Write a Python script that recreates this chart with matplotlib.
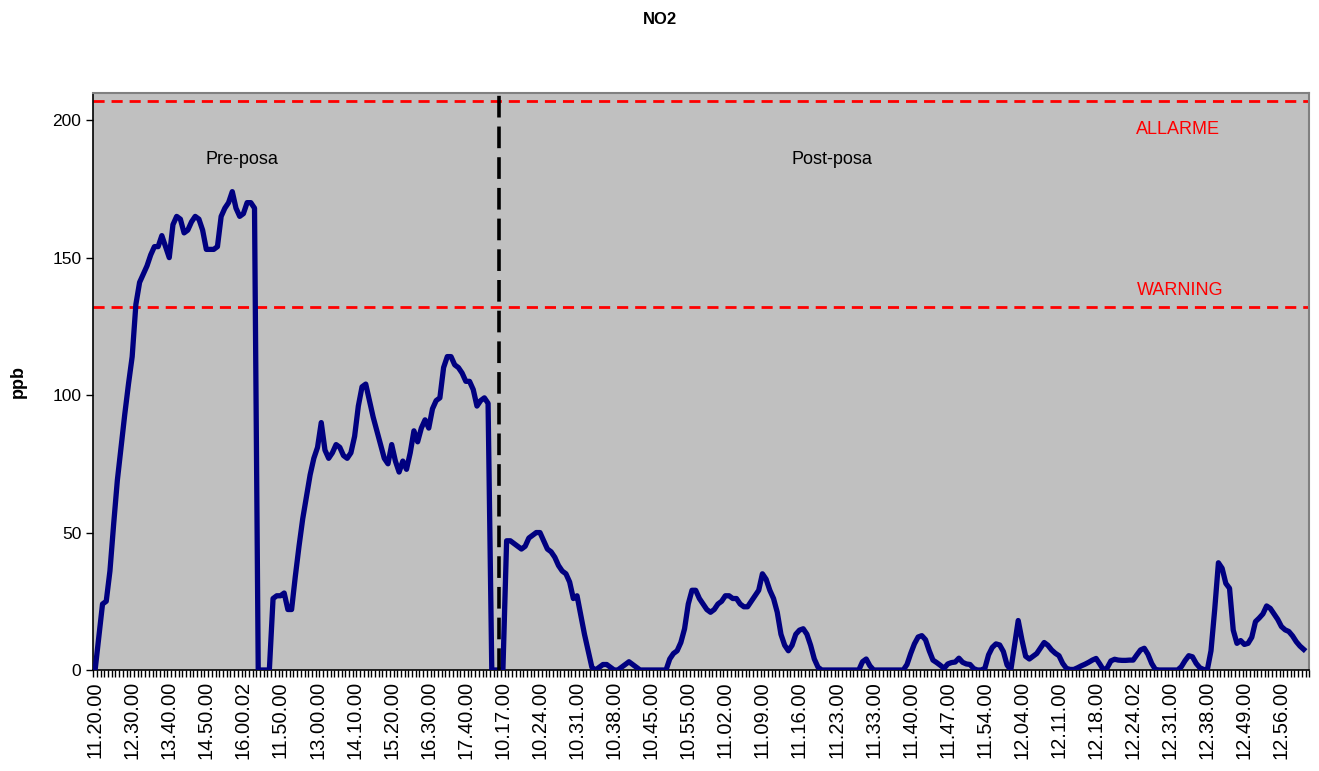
import matplotlib.pyplot as plt

# NO2 readings (ppb), one value per sample
no2_pre = [
    0, 12, 24, 25, 36, 53, 69, 81, 93, 104,
    114, 133, 141, 144, 147, 151, 154, 154, 158, 154,
    150, 162, 165, 164, 159, 160, 163, 165, 164, 160,
    153, 153, 153, 154, 165, 168, 170, 174, 168, 165,
    166, 170, 170, 168, 0, 0, 0, 0, 26, 27,
    27, 28, 22, 22, 34, 45, 55, 63, 71, 77,
    81, 90, 80, 77, 79, 82, 81, 78, 77, 79,
    85, 96, 103, 104, 98, 92, 87, 82, 77, 75,
    82, 76, 72, 76, 73, 79, 87, 83, 88, 91,
    88, 95, 98, 99, 110, 114, 114, 111, 110, 108,
    105, 105, 102, 96, 98, 99, 97, 0, 0, 0,
]
no2_post = [
    0, 47, 47, 46, 45, 44, 45, 48, 49, 50,
    50, 47, 44, 43, 41, 38, 36, 35, 32, 26,
    27, 20, 13, 7, 1, 0, 1, 2, 2, 1,
    0, 0, 1, 2, 3, 2, 1, 0, 0, 0,
    0, 0, 0, 0, 0, 4, 6, 7, 10, 15,
    24, 29, 29, 26, 24, 22, 21, 22, 24, 25,
    27, 27, 26, 26, 24, 23, 23, 25, 27, 29,
    35, 33, 29, 26, 21, 13, 9, 7, 9, 13,
    14.5, 15, 13, 9, 4, 1, 0, 0, 0, 0,
    0, 0, 0, 0, 0, 0, 0, 3, 4, 1.5,
    0, 0, 0, 0, 0, 0, 0, 0, 0, 2,
    6, 9.5, 12, 12.5, 11, 7, 3.6, 2.7, 1.7, 0.6,
    2.2, 2.7, 2.9, 4.3, 2.8, 2.2, 2, 0.5, 0, 0,
    0.6, 5.5, 8.2, 9.5, 9.1, 6.7, 1.8, 0, 9, 18,
    11, 5, 4, 5, 6, 8, 10, 9, 7.3, 6.1,
    5.2, 2.4, 0.6, 0.2, 0.2, 0.8, 1.5, 2.1, 2.8, 3.6,
    4.2, 2.2, 0, 0.8, 3.3, 3.9, 3.6, 3.5, 3.5, 3.6,
    3.6, 5.5, 7.3, 7.9, 5.7, 2.4, 0.2, 0, 0, 0,
    0, 0, 0, 1.2, 3.4, 5.2, 4.8, 2.4, 0.8, 0.2,
    0, 7, 22, 39, 37, 31.5, 29.7, 14.5, 9.7, 10.7,
    9.3, 9.7, 11.9, 17.6, 18.9, 20.4, 23.3, 22.4, 20.4, 18.4,
    15.8, 14.6, 14, 12.4, 10.3, 8.7, 7.5,
]
values = no2_pre + no2_post

tick_labels = [
    "11.20.00", "12.30.00", "13.40.00", "14.50.00", "16.00.02", "11.50.00",
    "13.00.00", "14.10.00", "15.20.00", "16.30.00", "17.40.00", "10.17.00",
    "10.24.00", "10.31.00", "10.38.00", "10.45.00", "10.55.00", "11.02.00",
    "11.09.00", "11.16.00", "11.23.00", "11.33.00", "11.40.00", "11.47.00",
    "11.54.00", "12.04.00", "12.11.00", "12.18.00", "12.24.02", "12.31.00",
    "12.38.00", "12.49.00", "12.56.00",
]
label_step = 10

allarme = 207
warning = 132
posa = 108.9   # laying time, between the two phases

plt.rcParams['font.family'] = ['Liberation Sans', 'DejaVu Sans']

fig = plt.figure(figsize=(13.19, 7.71), dpi=100)
ax = fig.add_axes([0.0707, 0.131, 0.9219, 0.7488])
ax.set_facecolor("#c0c0c0")

x = range(len(values))
ax.plot(x, values, color="#000080", linewidth=3.8, solid_joinstyle="round", zorder=3)

ax.axhline(allarme, color="red", linestyle=(0, (4, 2.5)), linewidth=2, zorder=2)
ax.axhline(warning, color="red", linestyle=(0, (4, 2.5)), linewidth=2, zorder=2)
ax.axvline(posa, color="black", linestyle=(0, (6, 2.5)), linewidth=2.6, zorder=4)

ax.text(0.892, 0.937, "ALLARME", color="red", fontsize=13, ha="center", va="center",
        transform=ax.transAxes)
ax.text(0.894, 0.6565, "WARNING", color="red", fontsize=13, ha="center", va="center",
        transform=ax.transAxes)

ax.text(0.1223, 0.885, "Pre-posa", fontsize=13, ha="center", va="center",
        transform=ax.transAxes)
ax.text(0.6074, 0.885, "Post-posa", fontsize=13, ha="center", va="center",
        transform=ax.transAxes)

ax.set_xlim(-0.5, len(values) + 0.5)
ax.set_ylim(0, 210)
ax.set_yticks([0, 50, 100, 150, 200])
ax.tick_params(axis="y", labelsize=12.5, length=5, width=1, direction="out")

# tick marks on every category boundary, labels every 10 samples
ax.set_xticks([k - 0.5 for k in range(len(values) + 2)])
ax.set_xticklabels([])
ax.set_xticks(range(0, len(tick_labels) * label_step, label_step), minor=True)
ax.set_xticklabels(tick_labels, minor=True, rotation=90, fontsize=14.5)
ax.tick_params(axis="x", which="major", length=5, width=1, direction="out")
ax.tick_params(axis="x", which="minor", length=0, pad=8)

for side in ["top", "right"]:
    ax.spines[side].set_color("#808080")
    ax.spines[side].set_linewidth(1.5)
for side in ["left", "bottom"]:
    ax.spines[side].set_color("black")
    ax.spines[side].set_linewidth(1.2)

ax.set_ylabel("ppb", fontsize=13, fontweight="bold")
ax.yaxis.set_label_coords(-0.055, 0.5)
fig.suptitle("NO2", fontsize=12, fontweight="bold", y=0.984)

fig.savefig("out.png", dpi=100)
